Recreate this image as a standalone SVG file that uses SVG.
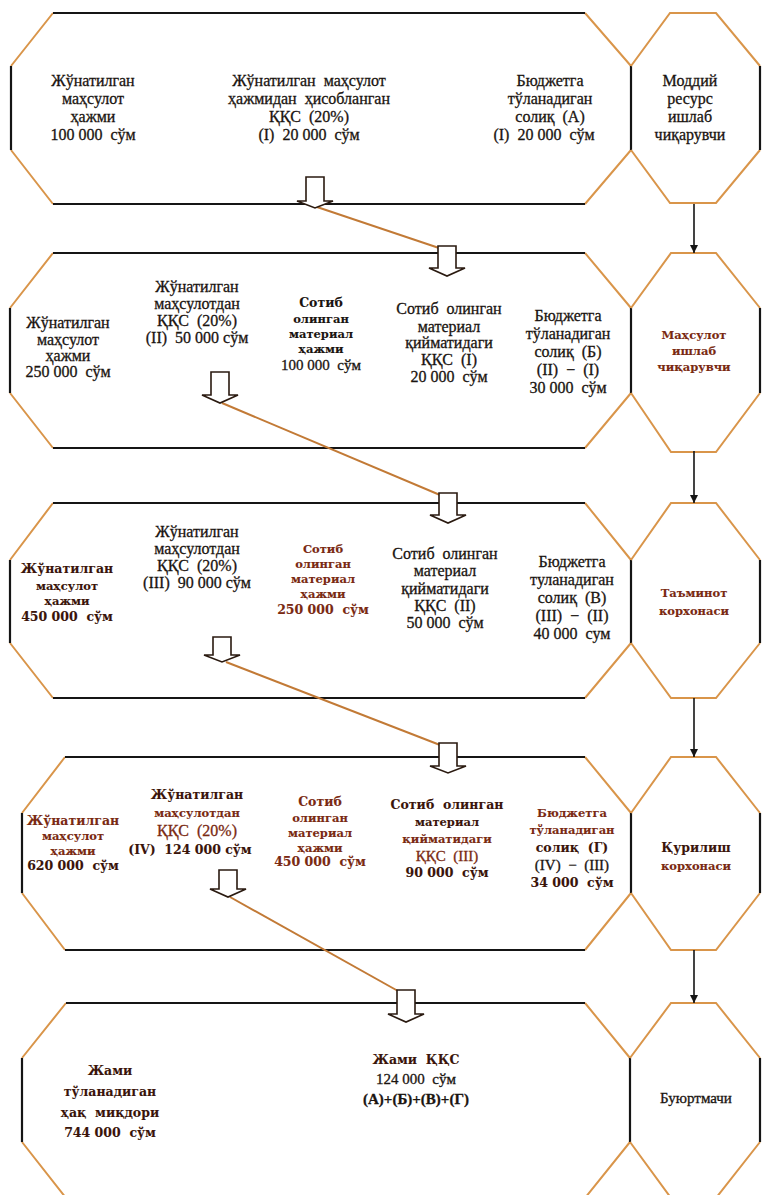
<svg xmlns="http://www.w3.org/2000/svg" width="762" height="1195" viewBox="0 0 762 1195">
<style>
text{font-family:"Liberation Serif","Times New Roman",serif;font-size:16px;fill:#1a1410;stroke:#1a1410;stroke-width:0.3;text-anchor:middle;white-space:pre}
.b{font-weight:bold}
.s{font-family:"DejaVu Serif","Liberation Serif",serif;font-size:12.5px;font-weight:bold;stroke-width:0.1}
.xs{font-family:"DejaVu Serif","Liberation Serif",serif;font-size:11.5px;font-weight:bold;stroke-width:0.1}
.rb{fill:#7a2a12;stroke:#7a2a12}
.dk{fill:#3a140a;stroke:#3a140a}
.diag{fill:none;stroke:#d9954a;stroke-width:2}
.edge{fill:none;stroke:#151515;stroke-width:2.2}
.link{fill:none;stroke:#c27a36;stroke-width:2}
.blk{fill:#fff;stroke:#2a1a10;stroke-width:1.6;stroke-linejoin:miter}
.flow{fill:none;stroke:#151515;stroke-width:1.6}
</style>
<defs>
<marker id="ah" viewBox="0 0 10 10" refX="10" refY="5" markerWidth="8" markerHeight="9" markerUnits="userSpaceOnUse" orient="auto"><path d="M0,0 L10,5 L0,10 Z" fill="#151515"/></marker>
</defs>
<rect width="762" height="1195" fill="#fff"/>

<!-- Row 1 -->
<g id="row1-main">
<path class="diag" d="M53,13 L11,66 M11,150 L53,204 M585,13 L631,66 M631,150 L585,204"/>
<path class="edge" d="M53,13 H585 M53,204 H585 M11,66 V150 M631,66 V150"/>
<text x="93" y="86">Жўнатилган</text>
<text x="93" y="104">маҳсулот</text>
<text x="93" y="122">ҳажми</text>
<text x="93" y="140">100 000  сўм</text>
<text x="309" y="86">Жўнатилган  маҳсулот</text>
<text x="309" y="104">ҳажмидан  ҳисобланган</text>
<text x="309" y="122">ҚҚС  (20%)</text>
<text x="309" y="140">(I)  20 000  сўм</text>
<text x="550" y="86">Бюджетга</text>
<text x="550" y="104">тўланадиган</text>
<text x="550" y="122">солиқ  (А)</text>
<text x="544" y="140">(I)  20 000  сўм</text>
</g>
<g id="row1-actor">
<path class="diag" d="M631,66 L670,13 H716 L760,66 M760,150 L716,203 H670 L631,150"/>
<path class="edge" d="M760,66 V150"/>
<text x="690" y="86">Моддий</text>
<text x="690" y="104">ресурс</text>
<text x="690" y="122">ишлаб</text>
<text x="690" y="140">чиқарувчи</text>
</g>

<!-- Row 2 -->
<g id="row2-main">
<path class="diag" d="M53,253 L10,308 M10,393 L53,448 M585,253 L631,308 M631,393 L585,448"/>
<path class="edge" d="M53,253 H585 M53,448 H585 M10,308 V393 M631,308 V393"/>
<text x="68" y="328">Жўнатилган</text>
<text x="68" y="345">маҳсулот</text>
<text x="68" y="361">ҳажми</text>
<text x="68" y="377">250 000  сўм</text>
<text x="197" y="292">Жўнатилган</text>
<text x="197" y="309">маҳсулотдан</text>
<text x="197" y="326">ҚҚС  (20%)</text>
<text x="197" y="343">(II)  50 000 сўм</text>
<text x="321" y="307" class="s">Сотиб</text>
<text x="321" y="323" class="xs">олинган</text>
<text x="321" y="338" class="xs">материал</text>
<text x="321" y="353" class="xs">ҳажми</text>
<text x="321" y="370" style="font-size:15px">100 000  сўм</text>
<text x="449" y="314">Сотиб  олинган</text>
<text x="449" y="332">материал</text>
<text x="449" y="348">қийматидаги</text>
<text x="449" y="365">ҚҚС  (I)</text>
<text x="449" y="382">20 000  сўм</text>
<text x="568" y="321">Бюджетга</text>
<text x="568" y="339">тўланадиган</text>
<text x="568" y="357">солиқ  (Б)</text>
<text x="568" y="375">(II)  −  (I)</text>
<text x="568" y="393">30 000  сўм</text>
</g>
<g id="row2-actor">
<path class="diag" d="M631,308 L671,253 H716 L760,308 M760,393 L716,452 H671 L631,393"/>
<path class="edge" d="M760,308 V393"/>
<text x="694" y="339" class="xs rb">Маҳсулот</text>
<text x="694" y="355" class="xs rb">ишлаб</text>
<text x="694" y="371" class="xs rb">чиқарувчи</text>
</g>

<!-- Row 3 -->
<g id="row3-main">
<path class="diag" d="M53,503 L10,560 M10,643 L53,698 M585,503 L631,560 M631,643 L585,698"/>
<path class="edge" d="M53,503 H585 M53,698 H585 M10,560 V643 M631,560 V643"/>
<text x="67" y="573" class="s dk">Жўнатилган</text>
<text x="67" y="590" class="xs dk">маҳсулот</text>
<text x="67" y="605" class="xs dk">ҳажми</text>
<text x="67" y="621" class="s dk">450 000  сўм</text>
<text x="197" y="537">Жўнатилган</text>
<text x="197" y="554">маҳсулотдан</text>
<text x="197" y="571">ҚҚС  (20%)</text>
<text x="197" y="588">(III)  90 000 сўм</text>
<text x="323" y="553" class="xs rb">Сотиб</text>
<text x="323" y="568" class="xs rb">олинган</text>
<text x="323" y="583" class="xs rb">материал</text>
<text x="323" y="598" class="xs rb">ҳажми</text>
<text x="323" y="614" class="s rb">250 000  сўм</text>
<text x="445" y="559">Сотиб  олинган</text>
<text x="445" y="576">материал</text>
<text x="445" y="594">қийматидаги</text>
<text x="445" y="611">ҚҚС  (II)</text>
<text x="445" y="628">50 000  сўм</text>
<text x="572" y="567">Бюджетга</text>
<text x="572" y="585">туланадиган</text>
<text x="572" y="603">солиқ  (В)</text>
<text x="572" y="621">(III)  −  (II)</text>
<text x="572" y="639">40 000  сум</text>
</g>
<g id="row3-actor">
<path class="diag" d="M631,560 L671,503 H716 L760,560 M760,643 L716,698 H671 L631,643"/>
<path class="edge" d="M760,560 V643"/>
<text x="694" y="597" class="xs rb">Таъминот</text>
<text x="694" y="615" class="xs rb">корхонаси</text>
</g>

<!-- Row 4 -->
<g id="row4-main">
<path class="diag" d="M65,757 L22,813 M22,893 L65,950 M585,757 L631,813 M631,893 L585,950"/>
<path class="edge" d="M65,757 H585 M65,950 H585 M22,813 V893 M631,813 V893"/>
<text x="73" y="825" class="s rb">Жўнатилган</text>
<text x="73" y="840" class="xs rb">маҳсулот</text>
<text x="73" y="855" class="xs rb">ҳажми</text>
<text x="73" y="870" class="s dk">620 000  сўм</text>
<text x="197" y="799" class="s dk">Жўнатилган</text>
<text x="197" y="817" class="xs rb">маҳсулотдан</text>
<text x="197" y="836" class="rb">ҚҚС  (20%)</text>
<text x="190" y="854" class="s dk">(IV)  124 000 сўм</text>
<text x="320" y="806" class="s rb">Сотиб</text>
<text x="320" y="822" class="xs rb">олинган</text>
<text x="320" y="837" class="xs rb">материал</text>
<text x="320" y="852" class="xs rb">ҳажми</text>
<text x="320" y="866" class="s rb">450 000  сўм</text>
<text x="447" y="809" class="s dk">Сотиб  олинган</text>
<text x="447" y="826" class="xs dk">материал</text>
<text x="447" y="843" class="xs rb">қийматидаги</text>
<text x="447" y="861" class="rb" style="font-size:15px">ҚҚС  (III)</text>
<text x="447" y="877" class="s dk">90 000  сўм</text>
<text x="572" y="817" class="xs rb">Бюджетга</text>
<text x="572" y="834" class="xs rb">тўланадиган</text>
<text x="572" y="852" class="s dk">солиқ  (Г)</text>
<text x="572" y="870" style="font-size:15px">(IV)  −  (III)</text>
<text x="572" y="887" class="s dk">34 000  сўм</text>
</g>
<g id="row4-actor">
<path class="diag" d="M631,813 L671,757 H716 L760,813 M760,893 L716,950 H671 L631,893"/>
<path class="edge" d="M760,813 V893"/>
<text x="696" y="852" class="s dk">Қурилиш</text>
<text x="696" y="870" class="xs rb">корхонаси</text>
</g>

<!-- Row 5 -->
<g id="row5-main">
<path class="diag" d="M66,1003 L22,1058 M22,1142 L66,1198 M585,1003 L630,1058 M630,1142 L585,1198"/>
<path class="edge" d="M66,1003 H585 M22,1058 V1142 M630,1058 V1142"/>
<text x="110" y="1075" class="s dk">Жами</text>
<text x="110" y="1096" class="s dk">тўланадиган</text>
<text x="110" y="1117" class="s dk">ҳақ  миқдори</text>
<text x="110" y="1137" class="s dk">744 000  сўм</text>
<text x="416" y="1064" class="s dk">Жами  ҚҚС</text>
<text x="416" y="1084" style="font-size:15px">124 000  сўм</text>
<text x="416" y="1104" class="b" style="font-size:15px">(А)+(Б)+(В)+(Г)</text>
</g>
<g id="row5-actor">
<path class="diag" d="M630,1058 L671,1003 H716 L760,1058 M760,1142 L716,1198 H671 L630,1142"/>
<path class="edge" d="M760,1058 V1142"/>
<text x="696" y="1103" style="font-size:15px">Буюртмачи</text>
</g>

<!-- Connectors -->
<g id="connectors">
<path class="flow" d="M694,204 V253" marker-end="url(#ah)"/>
<path class="flow" d="M694,451 V503" marker-end="url(#ah)"/>
<path class="flow" d="M694,698 V757" marker-end="url(#ah)"/>
<path class="flow" d="M694,950 V1003" marker-end="url(#ah)"/>
<path class="link" d="M317,207 L439,248"/>
<path class="link" d="M222,403 L440,495"/>
<path class="link" d="M226,662 L440,745"/>
<path class="link" d="M230,897 L398,991"/>
<path class="blk" d="M306,177 H324 V201 H333 L315,208 L297,201 H306 Z"/>
<path class="blk" d="M438,246 H456 V268 H465 L447,276 L429,268 H438 Z"/>
<path class="blk" d="M211,372 H229 V395 H238 L220,403 L202,395 H211 Z"/>
<path class="blk" d="M439,493 H457 V515 H466 L448,523 L430,515 H439 Z"/>
<path class="blk" d="M213,637 H231 V655 H240 L222,662 L204,655 H213 Z"/>
<path class="blk" d="M439,743 H457 V766 H466 L448,773 L430,766 H439 Z"/>
<path class="blk" d="M219,870 H237 V889 H246 L228,897 L210,889 H219 Z"/>
<path class="blk" d="M397,990 H415 V1014 H424 L406,1022 L388,1014 H397 Z"/>
</g>
</svg>
